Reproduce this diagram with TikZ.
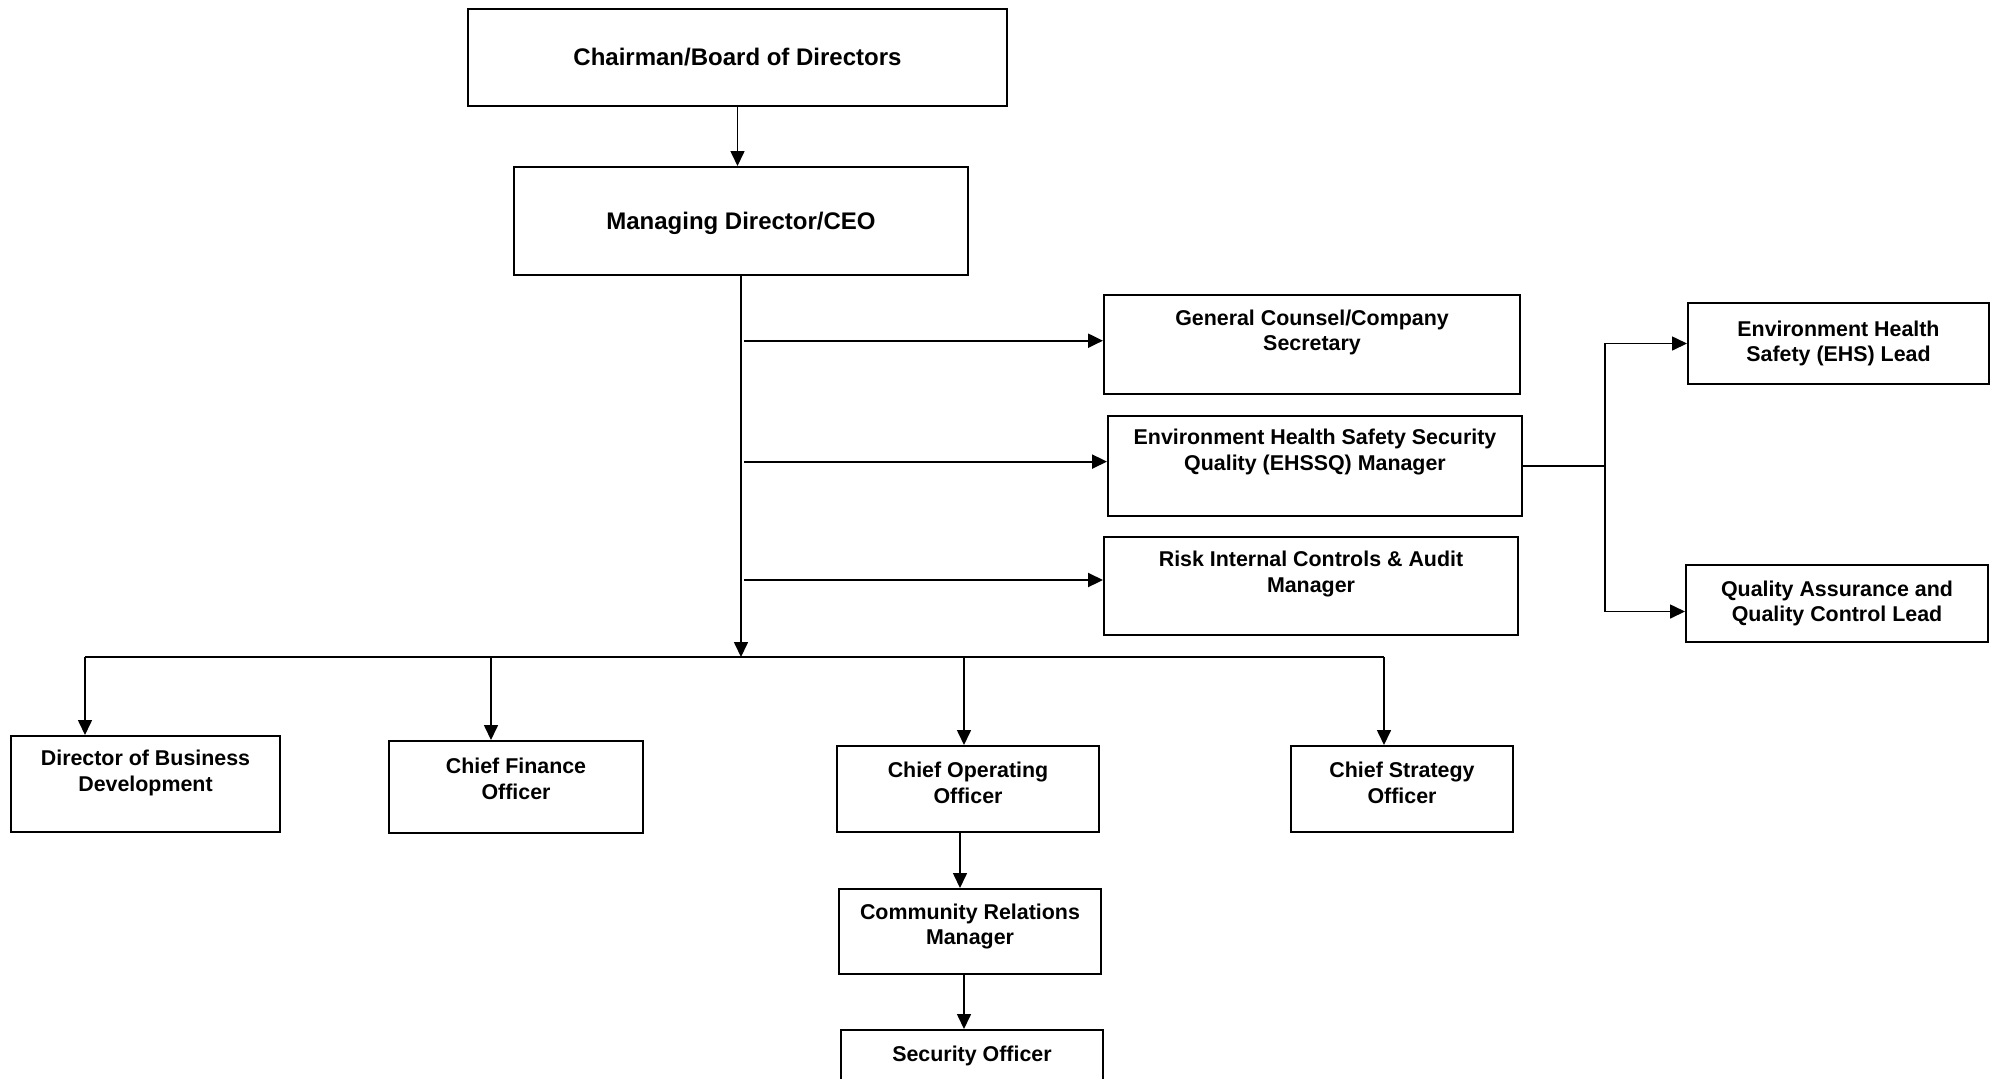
\documentclass[tikz,border=0pt]{standalone}
\usepackage{fontspec}
\setmainfont{Liberation Sans}
\usetikzlibrary{arrows.meta}
\newcommand{\orgfont}{\bfseries\fontsize{10.7}{12.7}\selectfont}
\newcommand{\topfont}{\bfseries\fontsize{12}{12.7}\selectfont}

\begin{document}
\begin{tikzpicture}[x=1pt, y=-1pt,
  office/.style={draw, line width=1pt, inner sep=0pt, align=center, font=\orgfont},
  link/.style={line width=0.8pt},
  feed/.style={link, -{Triangle[length=7.5pt,width=7pt]}},
  every label/.style={align=center, font=\orgfont}]
\clip (0,0) rectangle (997,539);

% top of the chart
\node[office, font=\topfont, minimum width=269.5pt, minimum height=48.5pt] (chair) at (368.75,28.75) {Chairman/Board of Directors};
\node[office, minimum width=227pt, minimum height=54pt,
  label={[font=\topfont, yshift=-1.2pt]center:{Managing Director/CEO}}] (md) at (370.5,110.5) {};

% staff reporting to the CEO
\node[office, minimum width=208pt, minimum height=49.5pt,
  label={[yshift=6pt]center:{General Counsel/Company\\Secretary}}] (gc) at (656,172.25) {};
\node[office, minimum width=207pt, minimum height=50pt,
  label={[yshift=7pt]center:{Environment Health Safety Security\\Quality (EHSSQ) Manager}}] (ehssq) at (657.5,233) {};
\node[office, minimum width=207pt, minimum height=49pt,
  label={[yshift=6pt]center:{Risk Internal Controls \& Audit\\Manager}}] (risk) at (655.5,293) {};
\node[office, minimum width=150.5pt, minimum height=40.5pt] (ehs) at (919.25,171.75) {Environment Health\\Safety (EHS) Lead};
\node[office, minimum width=151pt, minimum height=38.5pt] (qa) at (918.5,301.75) {Quality Assurance and\\Quality Control Lead};

% line officers
\node[office, minimum width=134.5pt, minimum height=48pt,
  label={[yshift=5.5pt]center:{Director of Business\\Development}}] (dbd) at (72.75,392) {};
\node[office, minimum width=127pt, minimum height=46pt,
  label={[yshift=4pt]center:{Chief Finance\\Officer}}] (cfo) at (258,393.5) {};
\node[office, minimum width=131pt, minimum height=43pt,
  label={[yshift=3pt]center:{Chief Operating\\Officer}}] (coo) at (484,394.5) {};
\node[office, minimum width=111pt, minimum height=43pt,
  label={[yshift=3pt]center:{Chief Strategy\\Officer}}] (cso) at (701,394.5) {};
\node[office, minimum width=131pt, minimum height=42.5pt,
  label={[yshift=2.5pt]center:{Community Relations\\Manager}}] (crm) at (485,465.75) {};
\node[office, minimum width=131pt, minimum height=42.5pt,
  label={[yshift=8.5pt]center:{Security Officer}}] (sec) at (486,536.25) {};

% connectors
\draw[feed] (chair.south) -- (chair.south |- md.north);
\coordinate (bus) at (370.5,328.5);
\draw[feed] (md.south) -- (bus);
\foreach \n/\s in {gc/1.9pt, ehssq/2.2pt, risk/3pt}
  \draw[feed, line width=1.1pt] ([xshift=1.5pt, yshift=\s]md.south |- \n.west) -- ([yshift=\s]\n.west);

\coordinate (elbow) at ([xshift=41pt]ehssq.east);
\draw[link, line width=1.1pt] (ehssq.east) -- (elbow);
\draw[feed] (elbow) |- (ehs.west);
\draw[feed] (elbow) |- ([yshift=-4pt]qa.west);

\coordinate (dropa) at (42.5,328.5);
\coordinate (dropb) at (245.5,328.5);
\coordinate (dropc) at (482,328.5);
\coordinate (dropd) at (692,328.5);
\draw[link, line width=1pt] (dropa) -- (dropd);
\foreach \d/\n in {dropa/dbd, dropb/cfo, dropc/coo, dropd/cso}
  \draw[feed] (\d) -- (\d |- \n.north);

\draw[feed] ([xshift=-4pt]coo.south) -- ([xshift=-4pt]coo.south |- crm.north);
\draw[feed] ([xshift=-3pt]crm.south) -- ([xshift=-3pt]crm.south |- sec.north);
\end{tikzpicture}
\end{document}
